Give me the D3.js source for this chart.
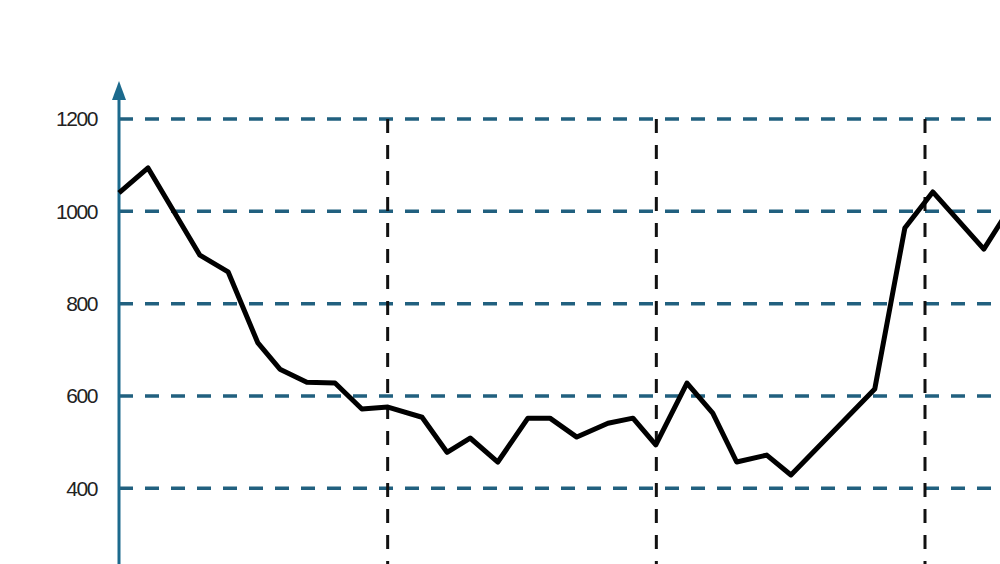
<!DOCTYPE html>
<html>
<head>
<meta charset="utf-8">
<script src="https://cdn.jsdelivr.net/npm/d3@7"></script>
<style>
body { margin: 0; background: #fff; }
svg { display: block; }
</style>
</head>
<body>
<script>
// positions along x (one unit per step, section marks every 10)
var steps = [0, 1.08, 3.01, 4.06, 5.17, 5.99, 6.99, 8.04, 9.04, 10.01, 11.28, 12.21, 13.07, 14.1, 15.22,
             16.04, 17.04, 18.2, 19.13, 19.98, 21.14, 22.1, 22.99, 24.11, 25.01, 28.13, 29.25, 30.29, 32.19, 33.3];
var values = [1040, 1094, 905, 869, 715, 658, 630, 628, 572, 576, 554, 478, 509, 457, 552,
              552, 511, 541, 552, 494, 628, 563, 457, 472, 429, 615, 964, 1042, 918, 1020];
var yTicks = [400, 600, 800, 1000, 1200];
var sections = [10, 20, 30];

var width = 1000, height = 564;
var x0 = 119, yTop = 119;

var x = d3.scaleLinear().domain([0, 30]).range([x0, 925]);
var y = d3.scaleLinear().domain([0, 1200]).range([673, yTop]);

var svg = d3.select("body").append("svg")
    .attr("width", width)
    .attr("height", height)
    .attr("viewBox", "0 0 " + width + " " + height);

//горизонтальные пунктирные линии
svg.append("g").selectAll("line")
    .data(yTicks)
    .enter().append("line")
    .attr("x1", x0)
    .attr("x2", width + 20)
    .attr("y1", function(d) { return y(d); })
    .attr("y2", function(d) { return y(d); })
    .attr("stroke", "#21607f")
    .attr("stroke-width", 3.5)
    .attr("stroke-dasharray", "14,12");

//вертикальные пунктирные линии
svg.append("g").selectAll("line")
    .data(sections)
    .enter().append("line")
    .attr("x1", function(d) { return x(d); })
    .attr("x2", function(d) { return x(d); })
    .attr("y1", y(1200))
    .attr("y2", height + 20)
    .attr("stroke", "#111")
    .attr("stroke-width", 3)
    .attr("stroke-dasharray", "14,12");

// ось y
var axis = d3.axisLeft(y)
    .tickValues(yTicks)
    .tickSize(0)
    .tickPadding(22)
    .tickFormat(d3.format("d"));

var gAxis = svg.append("g")
    .attr("transform", "translate(" + x0 + ",0)")
    .call(axis);

gAxis.select(".domain").remove();
gAxis.selectAll("text")
    .attr("font-family", "Liberation Sans, Arial, sans-serif")
    .attr("font-size", 21)
    .attr("letter-spacing", -1.4)
    .attr("fill", "#222");

gAxis.append("line")
    .attr("x1", 0).attr("x2", 0)
    .attr("y1", 98).attr("y2", height + 10)
    .attr("stroke", "#1c6a8d")
    .attr("stroke-width", 3);

gAxis.append("path")
    .attr("d", "M0 81 L7 100 L-7 100 Z")
    .attr("fill", "#1c6a8d");

// линия данных
var line = d3.line()
    .x(function(d, i) { return x(steps[i]); })
    .y(function(d) { return y(d); });

svg.append("path")
    .datum(values)
    .attr("d", line)
    .attr("fill", "none")
    .attr("stroke", "#000")
    .attr("stroke-width", 5)
    .attr("stroke-linejoin", "round");
</script>
</body>
</html>
